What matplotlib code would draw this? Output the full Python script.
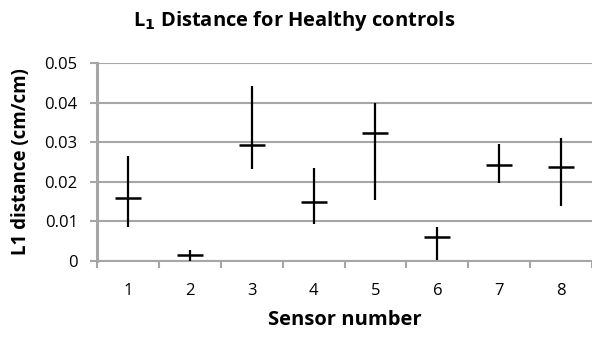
import matplotlib.pyplot as plt

# Data (high-low-mean per sensor)
sensors = [1, 2, 3, 4, 5, 6, 7, 8]
mean_l1 = [0.0160, 0.0016, 0.0293, 0.0149, 0.0322, 0.0061, 0.0242, 0.0238]
high_l1 = [0.0265, 0.0028, 0.0442, 0.0236, 0.0398, 0.0087, 0.0295, 0.0311]
low_l1 = [0.0087, 0.0000, 0.0232, 0.0093, 0.0154, 0.0003, 0.0198, 0.0139]
yticks = [0, 0.01, 0.02, 0.03, 0.04, 0.05]
ytick_labels = ["0", "0.01", "0.02", "0.03", "0.04", "0.05"]

plt.rcParams["font.family"] = ["Open Sans", "DejaVu Sans"]

fig = plt.figure(figsize=(5.92, 3.41), dpi=100)
ax = fig.add_axes([0.164, 0.2346, 0.836, 0.5806])

grid_col = "#a6a6a6"

# Range lines and mean ticks
ax.vlines(sensors, low_l1, high_l1, color="black", linewidth=1.6, zorder=3)
ax.plot(sensors, mean_l1, linestyle="none", marker="_", markersize=19,
        markeredgewidth=1.8, color="black", zorder=4)

ax.set_xlim(0.5, 8.5)
ax.set_ylim(0, 0.05)
ax.set_yticks(yticks)
ax.set_yticklabels(ytick_labels)
ax.set_xticks(sensors)
ax.set_xticklabels([str(s) for s in sensors])
ax.set_xticks([s - 0.5 for s in sensors] + [8.5], minor=True)

ax.grid(axis="y", color=grid_col, linewidth=1.5, zorder=0)
ax.set_axisbelow(True)

for side in ["top", "right"]:
    ax.spines[side].set_visible(False)
ax.spines["left"].set_color(grid_col)
ax.spines["left"].set_linewidth(2.2)
ax.spines["bottom"].set_color(grid_col)
ax.spines["bottom"].set_linewidth(1.5)

ax.tick_params(axis="y", length=5, width=1.5, color=grid_col, labelsize=12, pad=9)
ax.tick_params(axis="x", which="major", length=0, labelsize=12, pad=16)
ax.tick_params(axis="x", which="minor", length=5, width=1.5, color=grid_col)

ax.set_title("L$_\\mathbf{1}$ Distance for Healthy controls", fontsize=14.5,
             fontweight="bold", pad=27, x=0.398)
ax.set_xlabel("Sensor number", fontsize=14.5, fontweight="bold", labelpad=8)
ax.set_ylabel("L1 distance (cm/cm)", fontsize=13.5, fontweight="bold", labelpad=10)

plt.savefig("out.png", dpi=100)
